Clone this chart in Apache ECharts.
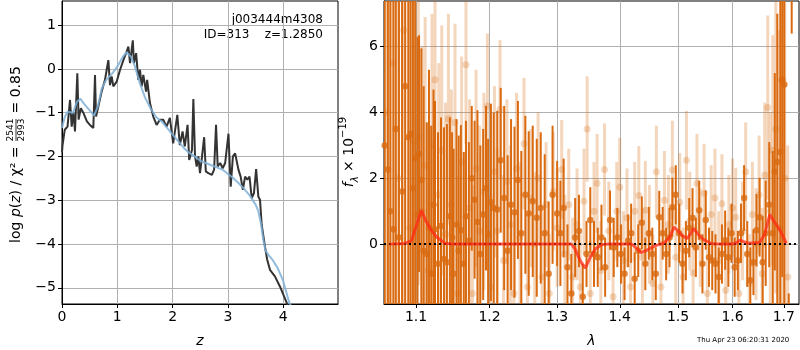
<!DOCTYPE html>
<html>
<head>
<meta charset="utf-8">
<script src="https://cdn.jsdelivr.net/npm/echarts@6/dist/echarts.min.js"></script>
<style>
html, body { margin: 0; padding: 0; background: #fff; }
#chart { width: 800px; height: 350px; }
</style>
</head>
<body>
<div id="chart"></div>
<script>
const FONT = 'DejaVu Sans';
const ORANGE = '#d96a10';
const ORANGE_LIGHT = 'rgba(217,106,16,0.28)';

// log p(z) curves, [z, log p]
const pzFit = [
  [0, -1.9], [0.01, -1.74], [0.05, -1.39], [0.1, -1.32], [0.145, -0.71], [0.175, -1.32], [0.205, -1.0],
  [0.235, -1.43], [0.277, -0.1], [0.3, -1.16], [0.34, -0.9], [0.385, -1.0], [0.45, -1.2], [0.505, -1.28],
  [0.566, -1.35], [0.597, -0.14], [0.615, -1.09], [0.657, -0.86], [0.717, -0.52], [0.777, -0.25],
  [0.808, -0.02], [0.838, 0.2], [0.868, -0.37], [0.898, -0.17], [0.928, -0.4], [0.989, -0.29],
  [1.05, -0.02], [1.11, 0.2], [1.17, 0.4], [1.2, 0.51], [1.23, 0.13], [1.28, 0.65], [1.30, 0.13],
  [1.34, 0.36], [1.38, -0.25], [1.41, -0.02], [1.44, -0.4], [1.47, -0.14], [1.52, -0.52], [1.54, -0.25],
  [1.59, -0.78], [1.65, -1.09], [1.71, -1.28], [1.77, -1.16], [1.83, -1.16], [1.89, -1.32], [1.95, -1.12],
  [2.01, -1.7], [2.085, -1.05], [2.13, -1.74], [2.18, -1.43], [2.22, -1.77], [2.27, -1.28], [2.30, -2.08],
  [2.35, -1.85], [2.375, -0.69], [2.405, -2.0], [2.435, -2.23], [2.465, -2.0], [2.495, -2.38], [2.525, -2.08],
  [2.57, -1.56], [2.60, -2.34], [2.645, -2.38], [2.71, -2.42], [2.75, -2.3], [2.785, -1.28], [2.815, -2.23],
  [2.86, -2.15], [2.905, -2.27], [2.95, -2.15], [3.01, -1.48], [3.05, -2.69], [3.09, -2.0], [3.13, -1.93],
  [3.16, -1.89], [3.19, -2.3], [3.23, -2.46], [3.27, -2.76], [3.31, -2.46], [3.35, -2.53], [3.39, -2.46],
  [3.43, -2.95], [3.47, -2.84], [3.51, -2.29], [3.55, -2.92], [3.58, -2.99], [3.61, -3.56], [3.64, -3.52],
  [3.67, -4.06], [3.71, -4.36], [3.76, -4.59], [3.85, -4.74], [3.94, -4.97], [4.03, -5.24], [4.09, -5.43]
];
const pzPrior = [
  [0, -1.35], [0.05, -1.1], [0.1, -0.98], [0.2, -1.0], [0.27, -0.75], [0.33, -0.68], [0.4, -0.8],
  [0.5, -0.95], [0.58, -1.07], [0.65, -0.85], [0.72, -0.45], [0.8, -0.25], [0.9, -0.12], [1.0, 0.05],
  [1.1, 0.28], [1.17, 0.38], [1.25, 0.27], [1.32, 0.05], [1.4, -0.3], [1.5, -0.65], [1.6, -0.9],
  [1.7, -1.1], [1.8, -1.2], [1.9, -1.35], [2.0, -1.5], [2.1, -1.65], [2.2, -1.8], [2.3, -1.92],
  [2.4, -2.0], [2.5, -2.1], [2.6, -2.15], [2.7, -2.2], [2.8, -2.25], [2.9, -2.3], [3.0, -2.4],
  [3.1, -2.5], [3.2, -2.62], [3.3, -2.75], [3.4, -2.9], [3.5, -3.1], [3.55, -3.25], [3.6, -3.55],
  [3.64, -3.9], [3.68, -4.15], [3.75, -4.28], [3.8, -4.35], [3.9, -4.55], [4.0, -4.85], [4.1, -5.3], [4.15, -5.45]
];

// spectrum, [lambda (um), flux, err]
const specMain = [
  [1.060, 3.0, 11], [1.064, 2.27, 11], [1.067, 1.0, 10], [1.071, 0.45, 10], [1.074, 3.5, 11], [1.078, 0.2, 9],
  [1.082, 1.6, 10], [1.086, 4.8, 10], [1.090, 3.25, 10], [1.093, 3.35, 9], [1.096, 1.7, 8], [1.099, 2.6, 6],
  [1.102, 0.9, 5.4], [1.104, 2.75, 3.6], [1.107, 1.95, 4.0], [1.110, -0.2, 5.0], [1.114, -0.3, 4.0],
  [1.117, 0.5, 4.8], [1.120, -0.9, 4.5], [1.123, 1.2, 3.5], [1.125, 0.45, 3.9], [1.129, -0.6, 4.0],
  [1.133, 0.55, 3.3], [1.137, -0.45, 4.0], [1.141, -0.55, 4.2], [1.145, 0.85, 3.0], [1.148, 0.2, 3.2],
  [1.150, -0.9, 3.8], [1.154, 0.6, 3.2], [1.157, -0.2, 3.5], [1.160, 0.42, 3.2], [1.164, -0.6, 3.4],
  [1.167, 0.85, 2.9], [1.171, 0.1, 3.0], [1.175, 2.0, 2.2], [1.179, 1.35, 2.4], [1.183, 0.67, 3.4],
  [1.187, -0.3, 3.3], [1.191, 0.9, 2.6], [1.195, 1.7, 2.5], [1.198, 0.3, 2.9],
  [1.202, 1.27, 3.0], [1.206, 1.1, 2.9], [1.211, 1.05, 3.0], [1.216, 2.55, 2.2], [1.221, 1.4, 2.8],
  [1.226, -0.2, 2.9], [1.231, 1.2, 2.6], [1.236, 0.97, 2.6], [1.241, 1.95, 2.4], [1.246, 0.33, 2.5],
  [1.252, 1.5, 2.4], [1.257, 0.93, 2.5], [1.263, 1.3, 2.3], [1.269, 0.8, 2.4], [1.275, 1.1, 2.3],
  [1.281, 0.33, 2.4], [1.287, -0.9, 2.2], [1.293, 1.5, 2.1],
  [1.300, 0.93, 1.6], [1.305, 0.33, 1.6], [1.310, 1.1, 1.5], [1.316, -0.7, 1.3], [1.322, -1.5, 1.2],
  [1.328, 0.2, 1.2], [1.334, 0.4, 1.1], [1.340, -1.6, 1.0], [1.346, -0.3, 1.0], [1.352, 0.73, 1.0],
  [1.358, -0.3, 1.0], [1.364, -0.4, 0.9], [1.370, 0.2, 1.0], [1.376, -0.7, 0.9], [1.384, 0.73, 0.9],
  [1.390, -0.1, 0.9], [1.396, 0.2, 0.9], [1.402, -0.3, 0.9], [1.408, -0.9, 0.8], [1.414, 0.1, 0.8],
  [1.419, 0.33, 0.9], [1.425, -1.05, 0.8], [1.431, -0.2, 0.8], [1.437, 0.65, 0.8], [1.443, -0.6, 0.8],
  [1.449, 0.33, 0.8], [1.455, -0.3, 0.8], [1.461, -0.9, 0.8], [1.467, 0.82, 0.8], [1.473, 0.33, 0.8],
  [1.479, -0.3, 0.8], [1.485, 0.2, 0.9], [1.490, 1.12, 0.9], [1.496, 1.5, 0.9], [1.502, 0.33, 0.9],
  [1.508, -0.6, 0.9], [1.514, -0.2, 0.9], [1.520, 0.5, 0.9], [1.526, 0.8, 0.9], [1.532, -0.1, 0.9],
  [1.538, 1.03, 0.9], [1.544, -0.6, 0.9], [1.550, 0.73, 0.9], [1.556, -0.4, 0.9], [1.562, -0.5, 0.9],
  [1.568, -0.6, 0.9], [1.574, -1.0, 0.9], [1.580, -0.3, 0.9], [1.586, 0.12, 0.9], [1.592, -0.4, 0.9],
  [1.598, 0.33, 0.9], [1.604, -0.7, 0.9], [1.610, -0.5, 0.9], [1.616, 0.33, 0.9], [1.622, 1.4, 1.0],
  [1.628, -0.3, 1.0], [1.634, -1.1, 1.0], [1.640, -0.55, 1.0], [1.646, 0.42, 1.1], [1.652, 0.82, 1.2],
  [1.658, -0.55, 1.4], [1.664, 0.33, 1.6], [1.671, 1.2, 1.9], [1.678, 0.33, 2.5], [1.682, 2.2, 3.0],
  [1.687, 2.5, 4.5], [1.693, 2.8, 5.5], [1.697, 5.0, 6.0], [1.701, 4.85, 7.0], [1.710, -4.0, 2.5], [1.716, 8.6, 2.2]
];
const specAlt = [
  [1.062, 4.0, 10], [1.070, 5.5, 10], [1.077, 2.0, 9], [1.084, 6.5, 9], [1.092, 0.5, 9], [1.098, 3.1, 7],
  [1.103, 3.25, 4.5], [1.108, 1.0, 5.0], [1.112, 2.4, 4.5], [1.116, -0.8, 4.5], [1.121, 3.0, 4.0],
  [1.125, 5.0, 3.0], [1.130, 1.5, 4.0], [1.134, 2.85, 3.8], [1.139, 0.3, 4.0], [1.143, 3.8, 3.2],
  [1.147, 1.2, 3.5], [1.152, 3.7, 3.0], [1.156, -1.5, 3.6], [1.161, 2.5, 3.2], [1.167, 5.45, 2.4],
  [1.172, 1.1, 3.3], [1.176, -1.5, 3.3], [1.181, 2.3, 3.0], [1.186, 0.4, 3.2], [1.192, 1.6, 3.0],
  [1.197, 4.2, 2.2], [1.202, -1.3, 2.8], [1.207, 2.2, 2.6], [1.211, 0.4, 2.5], [1.215, 4.1, 2.1],
  [1.220, -0.5, 2.6], [1.225, 1.9, 2.5], [1.230, 0.6, 2.4], [1.235, -1.5, 2.4], [1.239, 2.3, 2.3],
  [1.244, 0.2, 2.3], [1.250, 3.05, 2.0], [1.255, -1.3, 2.2], [1.260, 1.4, 2.1], [1.266, 0.0, 2.2],
  [1.271, 2.0, 2.0], [1.277, -1.0, 2.0], [1.283, 1.2, 1.9], [1.288, -1.5, 1.8], [1.294, 1.6, 1.8],
  [1.300, 0.5, 1.8], [1.307, 2.27, 1.5], [1.312, -0.3, 1.8], [1.318, 1.2, 1.7], [1.324, -1.0, 1.8],
  [1.331, 0.6, 1.7], [1.336, -1.3, 1.6], [1.342, 1.3, 1.6], [1.347, 3.5, 1.6], [1.352, -1.5, 1.6],
  [1.358, 1.0, 1.5], [1.363, 1.85, 1.5], [1.369, -0.8, 1.5], [1.375, 2.27, 1.4], [1.382, 0.4, 1.5],
  [1.389, -1.6, 1.5], [1.395, 1.0, 1.5], [1.400, 1.73, 1.5], [1.406, -0.5, 1.5], [1.412, 0.8, 1.5],
  [1.418, -1.3, 1.5], [1.425, 1.0, 1.5], [1.432, 1.48, 1.5], [1.438, -0.4, 1.5], [1.443, 1.03, 1.5],
  [1.450, 0.3, 1.5], [1.456, -1.2, 1.5], [1.462, 2.2, 1.4], [1.470, -1.3, 1.4], [1.476, 1.33, 1.5],
  [1.483, 0.6, 1.5], [1.490, 2.25, 1.5], [1.496, -0.4, 1.5], [1.503, 1.27, 1.5], [1.509, -1.0, 1.5],
  [1.515, 2.55, 1.5], [1.521, 0.7, 1.5], [1.527, -0.88, 1.5], [1.534, 1.85, 1.5], [1.540, 0.2, 1.5],
  [1.547, 1.55, 1.5], [1.553, -1.5, 1.5], [1.560, 0.9, 1.5], [1.567, 1.4, 1.5], [1.574, -0.5, 1.5],
  [1.580, 1.23, 1.5], [1.587, -1.4, 1.5], [1.593, 0.6, 1.5], [1.600, 1.1, 1.5], [1.606, 0.82, 1.5],
  [1.612, -1.5, 1.5], [1.619, 0.4, 1.5], [1.625, 2.2, 1.5], [1.632, -1.2, 1.5], [1.638, 0.9, 1.6],
  [1.645, 0.0, 1.7], [1.651, 1.5, 1.8], [1.657, -0.9, 2.0], [1.662, 2.1, 2.2], [1.668, 4.15, 2.8],
  [1.673, 1.0, 3.0], [1.678, 2.85, 3.5], [1.684, 3.5, 5.0], [1.690, 0.5, 6.0], [1.696, 5.0, 8.0],
  [1.702, 2.0, 8.0], [1.708, -1.0, 4.0]
];
// best-fit line model, [lambda, flux]
const modelLine = [
  [1.066, 0], [1.085, 0.02], [1.094, 0.1], [1.101, 0.6], [1.107, 1.03], [1.113, 0.7], [1.12, 0.42],
  [1.128, 0.2], [1.138, 0.03], [1.15, 0], [1.322, 0], [1.328, -0.15], [1.336, -0.5], [1.344, -0.73],
  [1.352, -0.4], [1.36, -0.15], [1.37, -0.02], [1.38, 0], [1.42, 0], [1.428, -0.12], [1.436, -0.26],
  [1.444, -0.2], [1.452, -0.12], [1.462, -0.04], [1.475, 0.03], [1.485, 0.2], [1.493, 0.52], [1.5, 0.4],
  [1.508, 0.25], [1.516, 0.17], [1.522, 0.3], [1.528, 0.48], [1.536, 0.3], [1.545, 0.15], [1.56, 0.02],
  [1.575, 0], [1.6, 0], [1.608, 0.05], [1.614, 0.12], [1.62, 0.08], [1.63, 0.03], [1.652, 0.05],
  [1.662, 0.3], [1.672, 0.9], [1.68, 0.7], [1.687, 0.55], [1.695, 0.35], [1.705, 0.02]
];

const zTicks = [0, 1, 2, 3, 4];
const pzTicks = [-5, -4, -3, -2, -1, 0, 1];
const lamTicks = [1.1, 1.2, 1.3, 1.4, 1.5, 1.6, 1.7];
const fluxTicks = [0, 2, 4, 6];

const LAM_MIN = 1.0591, LAM_MAX = 1.7309;
const F_MIN = -1.82, F_MAX = 7.39;

// wavelength axis is logarithmic
const lx = l => Math.log(l);
const minus = v => String(v).replace('-', '\u2212');

const chart = echarts.init(document.getElementById('chart'));

const txt = { fontFamily: FONT, fontSize: 14, color: '#000' };

function axisBase(ticks, fmt) {
  return {
    axisLine: { show: true, onZero: false, lineStyle: { color: '#000', width: 1 } },
    axisTick: { show: true, inside: false, length: 4, customValues: ticks, lineStyle: { color: '#000' } },
    axisLabel: Object.assign({ customValues: ticks, formatter: fmt, margin: 6 }, txt),
    splitLine: { show: true, lineStyle: { color: '#b0b0b0', width: 1 } }
  };
}

function errRender(width, color) {
  return function (params, api) {
    const x = api.value(0);
    const lo = Math.max(api.value(1), F_MIN);
    const hi = Math.min(api.value(2), F_MAX);
    if (hi <= lo) return;
    const p1 = api.coord([x, hi]);
    const p2 = api.coord([x, lo]);
    return {
      type: 'line',
      shape: { x1: p1[0], y1: p1[1], x2: p2[0], y2: p2[1] },
      style: { stroke: color, lineWidth: width }
    };
  };
}

const errData = arr => arr.map(d => [lx(d[0]), d[1] - d[2], d[1] + d[2]]);
const dotData = arr => arr.map(d => [lx(d[0]), d[1]]);

const option = {
  animation: false,
  backgroundColor: '#fff',
  textStyle: { fontFamily: FONT },
  grid: [
    { left: 62, top: 1, width: 276, height: 303, show: true, borderColor: '#000', borderWidth: 1, outerBoundsMode: 'none' },
    { left: 384, top: 1, width: 415, height: 303, show: true, borderColor: '#000', borderWidth: 1, outerBoundsMode: 'none' }
  ],
  xAxis: [
    Object.assign(axisBase(zTicks, v => minus(v)), {
      type: 'value', gridIndex: 0, min: 0, max: 4.99,
      name: 'z', nameLocation: 'middle', nameGap: 30,
      nameTextStyle: Object.assign({}, txt, { fontStyle: 'italic' })
    }),
    Object.assign(axisBase(lamTicks.map(lx), v => Math.exp(v).toFixed(1)), {
      type: 'value', gridIndex: 1, min: lx(LAM_MIN), max: lx(LAM_MAX),
      name: 'λ', nameLocation: 'middle', nameGap: 30,
      nameTextStyle: Object.assign({}, txt, { fontStyle: 'italic' })
    })
  ],
  yAxis: [
    Object.assign(axisBase(pzTicks, v => minus(v)), {
      type: 'value', gridIndex: 0, min: -5.37, max: 1.55
    }),
    Object.assign(axisBase(fluxTicks, v => minus(v)), {
      type: 'value', gridIndex: 1, min: F_MIN, max: F_MAX
    })
  ],
  graphic: [
    { type: 'text', x: 323, y: 20, style: Object.assign({ text: 'j003444m4308', align: 'right', verticalAlign: 'middle' }, txt, { fontSize: 12 }) },
    { type: 'text', x: 323, y: 35, style: Object.assign({ text: 'ID=313    z=1.2850', align: 'right', verticalAlign: 'middle' }, txt, { fontSize: 12 }) },
    {
      // left y label with stacked fraction
      type: 'group', x: 16, y: 153, rotation: Math.PI / 2,
      children: [
        { type: 'text', x: 11, y: 0, style: {
          text: '{n|log }{i|p}{n|(}{i|z}{n|) / χ² = }', align: 'right', verticalAlign: 'middle',
          rich: { n: txt, i: Object.assign({}, txt, { fontStyle: 'italic' }) } } },
        { type: 'text', x: 23, y: -5, style: { text: '2541', fontFamily: FONT, fontSize: 9, fill: '#000', align: 'center', verticalAlign: 'middle' } },
        { type: 'line', shape: { x1: 12, y1: 0, x2: 34, y2: 0 }, style: { stroke: '#000', lineWidth: 0.8 } },
        { type: 'text', x: 23, y: 6, style: { text: '2993', fontFamily: FONT, fontSize: 9, fill: '#000', align: 'center', verticalAlign: 'middle' } },
        { type: 'text', x: 35, y: 0, style: { text: ' = 0.85', fontFamily: FONT, fontSize: 14, fill: '#000', align: 'left', verticalAlign: 'middle' } }
      ]
    },
    {
      type: 'text', x: 349, y: 152, rotation: Math.PI / 2,
      style: {
        text: '{i|f}{sub|λ}{n| × 10}{sup|−19}', align: 'center', verticalAlign: 'middle',
        rich: {
          i: Object.assign({}, txt, { fontStyle: 'italic', lineHeight: 22 }),
          n: Object.assign({}, txt, { lineHeight: 22 }),
          sub: { fontFamily: FONT, fontSize: 10, fontStyle: 'italic', fill: '#000', verticalAlign: 'bottom', lineHeight: 22 },
          sup: { fontFamily: FONT, fontSize: 10, fill: '#000', verticalAlign: 'top', lineHeight: 22 }
        }
      }
    },
    { type: 'text', x: 697, y: 340, style: { text: 'Thu Apr 23 06:20:31 2020', fontFamily: FONT, fontSize: 7, fill: '#000', verticalAlign: 'middle' } }
  ],
  series: [
    {
      type: 'line', xAxisIndex: 0, yAxisIndex: 0, data: pzFit, showSymbol: false,
      lineStyle: { color: '#333333', width: 2 }, z: 2
    },
    {
      type: 'line', xAxisIndex: 0, yAxisIndex: 0, data: pzPrior, showSymbol: false,
      lineStyle: { color: '#7fb0d8', width: 2, opacity: 0.85 }, z: 3
    },
    {
      type: 'custom', xAxisIndex: 1, yAxisIndex: 1, data: errData(specAlt), clip: true,
      renderItem: errRender(3, ORANGE_LIGHT), z: 2
    },
    {
      type: 'scatter', xAxisIndex: 1, yAxisIndex: 1, data: dotData(specAlt), symbolSize: 7,
      itemStyle: { color: ORANGE, opacity: 0.25 }, z: 3
    },
    {
      type: 'custom', xAxisIndex: 1, yAxisIndex: 1, data: errData(specMain), clip: true,
      renderItem: errRender(2, ORANGE), z: 4
    },
    {
      type: 'scatter', xAxisIndex: 1, yAxisIndex: 1, data: dotData(specMain), symbolSize: 6.5,
      itemStyle: { color: ORANGE }, z: 5
    },
    {
      type: 'line', xAxisIndex: 1, yAxisIndex: 1, data: dotData(modelLine), showSymbol: false,
      lineStyle: { color: 'rgba(255,40,20,0.75)', width: 3 }, z: 6,
      markLine: {
        silent: true, symbol: 'none', label: { show: false },
        lineStyle: { color: '#000', type: [2, 3], width: 2 },
        data: [{ yAxis: 0 }]
      }
    }
  ]
};

chart.setOption(option);
</script>
</body>
</html>
